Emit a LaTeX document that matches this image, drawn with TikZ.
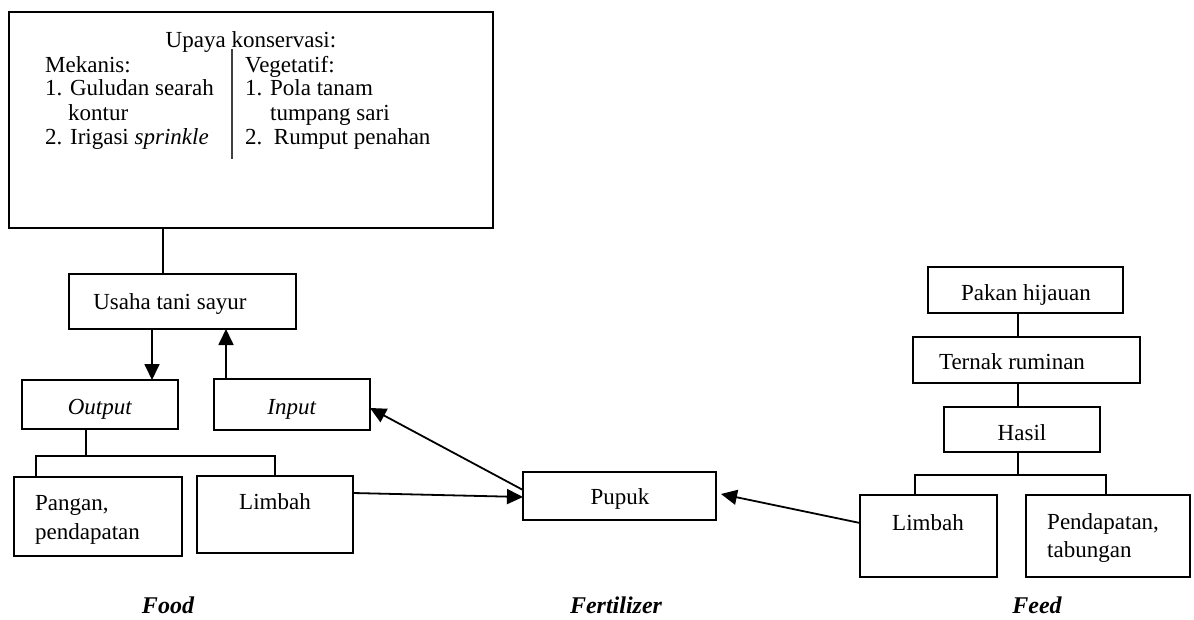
\documentclass[tikz,border=0pt]{standalone}
\usepackage{fontspec}
\setmainfont{Liberation Serif}
\usetikzlibrary{arrows.meta}
\tikzset{
  box/.style={draw, line width=1.8pt, inner sep=0pt, outer sep=0pt, rectangle},
  txt/.style={inner sep=0pt, font=\fontsize{23}{27}\selectfont, anchor=mid},
  txtw/.style={txt, anchor=mid west},
  bottomlabel/.style={inner sep=0pt, font=\fontsize{24}{28}\selectfont\bfseries\itshape, anchor=mid},
  conn/.style={line width=1.8pt},
  arr/.style={line width=1.8pt, -{Triangle[length=16pt,width=15pt]}},
}
\begin{document}
\begin{tikzpicture}[x=1pt,y=-1pt]
\useasboundingbox (0,0) rectangle (1194,620);
% boxes
\node[box, minimum width=484pt, minimum height=216pt] (top) at (251,120) {};
\node[box, minimum width=227pt, minimum height=55pt] (usaha) at (182.5,301.5) {};
\node[box, minimum width=156pt, minimum height=49pt] (output) at (100,404.5) {};
\node[box, minimum width=156pt, minimum height=51pt] (input) at (292,404.5) {};
\node[box, minimum width=168pt, minimum height=79pt] (pangan) at (98,516.5) {};
\node[box, minimum width=156pt, minimum height=77pt] (limbahL) at (275,514.5) {};
\node[box, minimum width=193pt, minimum height=48pt] (pupuk) at (619.5,496) {};
\node[box, minimum width=195pt, minimum height=46pt] (pakan) at (1025.5,290) {};
\node[box, minimum width=227pt, minimum height=46pt] (ternak) at (1026.5,360) {};
\node[box, minimum width=156pt, minimum height=45pt] (hasil) at (1022,429.5) {};
\node[box, minimum width=137pt, minimum height=82pt] (limbahR) at (928.5,536) {};
\node[box, minimum width=164pt, minimum height=82pt] (pend) at (1108,536) {};
% top box text
\node[txt] (t0) at (251,45) {Upaya konservasi:};
\node[txtw] (t1) at (45,70) {Mekanis:};
\node[txtw] (t2) at (45,93) {1. Guludan searah};
\node[txtw] (t3) at (68,118) {kontur};
\node[txtw] (t4) at (45,142) {2. Irigasi \textit{sprinkle}};
\node[txtw] (t5) at (245,70) {Vegetatif:};
\node[txtw] (t6) at (245,93) {1. Pola tanam};
\node[txtw] (t7) at (270,118) {tumpang sari};
\node[txtw] (t8) at (245,142) {2.\ \ Rumput penahan};
\coordinate (d1) at (232,49);
\coordinate (d2) at (232,159);
\draw[line width=1.3pt, black!75] (d1) -- (d2);
% other texts
\node[txt] (usahaT) at (170,307) {Usaha tani sayur};
\node[txt] (outputT) at (100,412) {\textit{Output}};
\node[txt] (inputT) at (292,412) {\textit{Input}};
\node[txtw] (panganT1) at (35,508) {Pangan,};
\node[txtw] (panganT2) at (35,537) {pendapatan};
\node[txt] (limbahLT) at (275,507) {Limbah};
\node[txt] (pupukT) at (620,502) {Pupuk};
\node[txt] (pakanT) at (1026,298) {Pakan hijauan};
\node[txt] (ternakT) at (1012,367) {Ternak ruminan};
\node[txt] (hasilT) at (1022,438) {Hasil};
\node[txt] (limbahRT) at (928,528) {Limbah};
\node[txtw] (pendT1) at (1047,527) {Pendapatan,};
\node[txtw] (pendT2) at (1047,555) {tabungan};
\node[bottomlabel] (food) at (168,611) {Food};
\node[bottomlabel] (fert) at (616,611) {Fertilizer};
\node[bottomlabel] (feed) at (1037,611) {Feed};
% connector helper coordinates
\coordinate (xa) at (163,0);
\coordinate (xb) at (152,0);
\coordinate (xc) at (226,0);
\coordinate (xo) at (86,0);
\coordinate (hl) at (0,456);
\coordinate (xl1) at (36,0);
\coordinate (xl2) at (275,0);
\coordinate (xr) at (1018,0);
\coordinate (hr) at (0,475);
\coordinate (xr1) at (915,0);
\coordinate (xr2) at (1106,0);
\coordinate (y1) at (0,493);
\coordinate (y2) at (0,497);
\coordinate (y3) at (0,490);
\coordinate (y4) at (0,408);
\coordinate (y5) at (0,523);
\coordinate (y6) at (0,494);
% left connectors
\draw[conn] (top.south -| xa) -- (usaha.north -| xa);
\draw[arr] (usaha.south -| xb) -- (output.north -| xb);
\draw[arr] (input.north -| xc) -- (usaha.south -| xc);
\draw[conn] (output.south -| xo) -- (hl -| xo);
\draw[conn] (pangan.north -| xl1) -- (hl -| xl1) -- (hl -| xl2) -- (limbahL.north -| xl2);
\draw[arr] (limbahL.east |- y1) -- (pupuk.west |- y2);
\draw[arr] (pupuk.west |- y3) -- (input.east |- y4);
\draw[arr] (limbahR.west |- y5) -- ([xshift=5pt]pupuk.east |- y6);
% right connectors
\draw[conn] (pakan.south -| xr) -- (ternak.north -| xr);
\draw[conn] (ternak.south -| xr) -- (hasil.north -| xr);
\draw[conn] (hasil.south -| xr) -- (hr -| xr);
\draw[conn] (limbahR.north -| xr1) -- (hr -| xr1) -- (hr -| xr2) -- (pend.north -| xr2);
\end{tikzpicture}
\end{document}
